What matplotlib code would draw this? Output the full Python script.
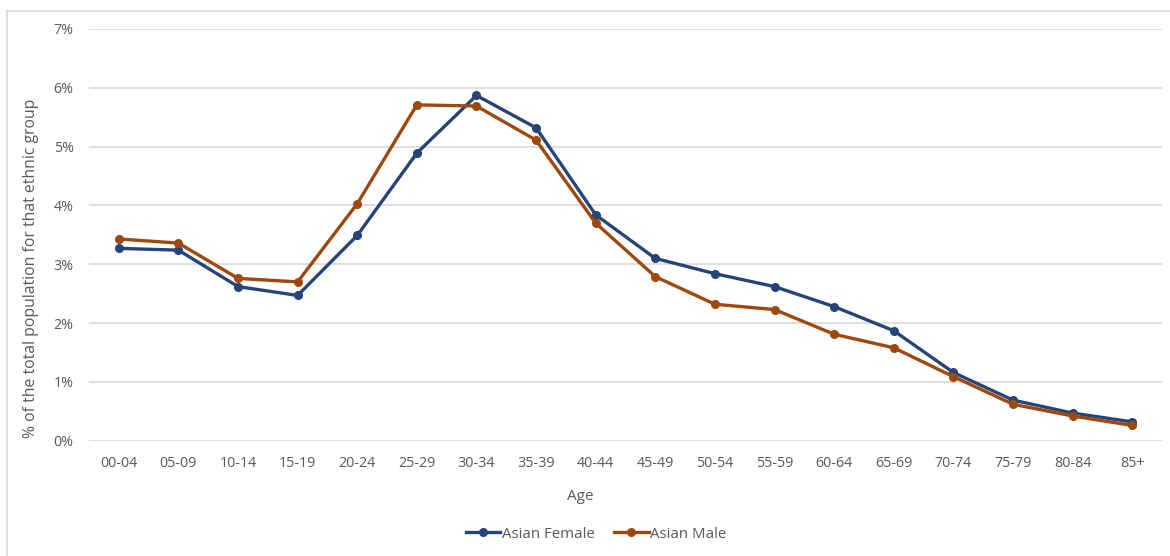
import matplotlib.pyplot as plt
from matplotlib.lines import Line2D
from matplotlib.ticker import PercentFormatter

# Age profile of the Asian population, % of the group in each 5-year band
age_bands = ['00-04', '05-09', '10-14', '15-19', '20-24', '25-29', '30-34', '35-39', '40-44',
             '45-49', '50-54', '55-59', '60-64', '65-69', '70-74', '75-79', '80-84', '85+']
asian_female = [3.27, 3.24, 2.62, 2.47, 3.49, 4.89, 5.87, 5.32, 3.84,
                3.10, 2.84, 2.62, 2.28, 1.87, 1.16, 0.69, 0.47, 0.32]
asian_male = [3.43, 3.36, 2.76, 2.70, 4.03, 5.71, 5.69, 5.11, 3.70,
              2.79, 2.32, 2.23, 1.81, 1.58, 1.09, 0.62, 0.42, 0.26]

blue = '#264478'
orange = '#9E480E'
text_col = '#595959'
grid_col = '#D9D9D9'

plt.rcParams['font.family'] = ['Open Sans', 'DejaVu Sans']
plt.rcParams['font.size'] = 10

fig = plt.figure(figsize=(11.7, 5.56), dpi=100)
ax = fig.add_axes([89 / 1170, 1 - 440.7 / 556, (1162 - 89) / 1170, (440.7 - 29) / 556])

x = list(range(len(age_bands)))
ax.plot(x, asian_female, color=blue, lw=2.4, marker='o', ms=5.5, label='Asian Female', zorder=3)
ax.plot(x, asian_male, color=orange, lw=2.4, marker='o', ms=5.5, label='Asian Male', zorder=3)

ax.set_xlim(-0.5, len(age_bands) - 0.5)
ax.set_ylim(0, 7)
ax.set_yticks(range(0, 8))
ax.yaxis.set_major_formatter(PercentFormatter(xmax=100, decimals=0))
ax.set_xticks(x)
ax.set_xticklabels(age_bands)
ax.tick_params(axis='both', length=0, colors=text_col, labelsize=10.3)
ax.tick_params(axis='y', pad=11)
ax.tick_params(axis='x', pad=11)
ax.grid(axis='y', color=grid_col, lw=1.2)
ax.set_axisbelow(True)
for side in ax.spines.values():
    side.set_visible(False)

fig.text(31 / 1170, 1 - 268 / 556, '% of the total population for that ethnic group',
         rotation=90, ha='center', va='center', color=text_col, fontsize=11.3)
fig.text(580 / 1170, 1 - 497 / 556, 'Age', ha='center', va='center', color=text_col, fontsize=11)

leg = fig.legend(loc='center', bbox_to_anchor=(596 / 1170, 1 - 534 / 556), ncol=2, frameon=False,
                 handlelength=2.3, handletextpad=0.1, columnspacing=1.3, fontsize=10.8)
for t in leg.get_texts():
    t.set_color(text_col)

# light frame around the chart area
fig.add_artist(Line2D([7 / 1170, 7 / 1170], [0, 1 - 10.5 / 556], color=grid_col, lw=1.2))
fig.add_artist(Line2D([7 / 1170, 1], [1 - 10.5 / 556, 1 - 10.5 / 556], color=grid_col, lw=1.2))

fig.savefig('out.png', dpi=100)
